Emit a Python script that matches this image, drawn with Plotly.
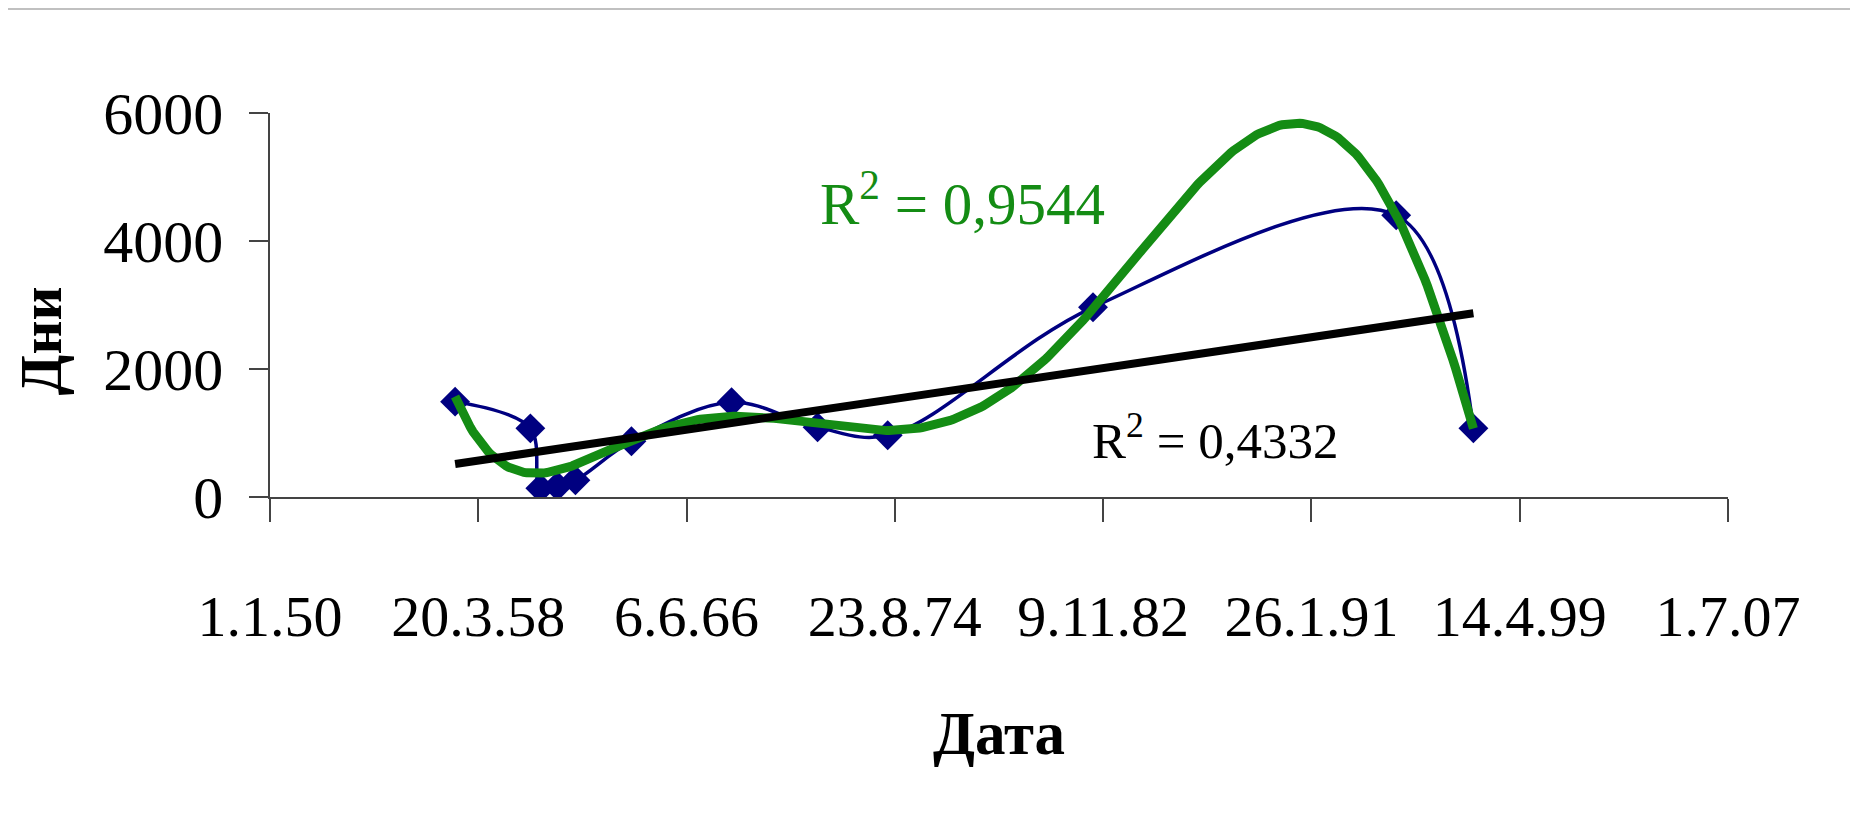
import numpy as np
import pandas as pd
import plotly.graph_objects as go

# ---- data ----
dates = ["1957-04-20", "1960-04-08", "1960-08-30", "1961-05-03", "1962-01-17",
         "1964-04-03", "1968-03-15", "1971-08-06", "1974-05-12", "1982-06-16",
         "1994-05-31", "1997-06-16"]
days_vals = [1490, 1073, 136, 167, 261, 870, 1480, 1089, 964, 2964, 4402, 1073]

tick_dates = ["1950-01-01", "1958-03-20", "1966-06-06", "1974-08-23",
              "1982-11-09", "1991-01-26", "1999-04-14", "2007-07-01"]
tick_labels = ["1.1.50", "20.3.58", "6.6.66", "23.8.74",
               "9.11.82", "26.1.91", "14.4.99", "1.7.07"]
y_ticks = [0, 2000, 4000, 6000]

r2_poly_text = "R<sup>2</sup> = 0,9544"
r2_lin_text = "R<sup>2</sup> = 0,4332"

# ---- trendlines (fit computed from the data, as the spreadsheet did) ----
dt = pd.to_datetime(dates)
xnum = (dt - pd.Timestamp("1970-01-01")).days.values.astype(float)
yv = np.array(days_vals, dtype=float)

poly6 = np.polynomial.Polynomial.fit(xnum, yv, 6)
lin = np.polynomial.Polynomial.fit(xnum, yv, 1)
xs = np.linspace(xnum.min(), xnum.max(), 400)
xs_dates = pd.Timestamp("1970-01-01") + pd.to_timedelta(xs, unit="D")
xl = np.array([xnum.min(), xnum.max()])
xl_dates = pd.Timestamp("1970-01-01") + pd.to_timedelta(xl, unit="D")

FONT = "Liberation Serif"

fig = go.Figure()
fig.add_trace(go.Scatter(
    x=dt, y=days_vals, mode="lines+markers",
    line=dict(color="#000080", width=3.5, shape="spline", smoothing=1.0),
    marker=dict(symbol="diamond", size=23, color="#000080"),
    showlegend=False))
fig.add_trace(go.Scatter(
    x=xs_dates, y=poly6(xs), mode="lines",
    line=dict(color="#148c14", width=9), showlegend=False))
fig.add_trace(go.Scatter(
    x=xl_dates, y=lin(xl), mode="lines",
    line=dict(color="#000000", width=8), showlegend=False))

fig.update_layout(
    width=1842, height=823,
    margin=dict(l=262, r=122, t=105, b=334),
    paper_bgcolor="white", plot_bgcolor="white",
    font=dict(family=FONT, color="black"),
    xaxis=dict(
        type="date",
        range=[tick_dates[0], tick_dates[-1]],
        tickmode="array", tickvals=tick_dates, ticktext=tick_labels,
        ticks="outside", ticklen=23, tickcolor="#444", tickwidth=1.5,
        showline=True, linecolor="#444", linewidth=1.5,
        showgrid=False, zeroline=False,
        tickfont=dict(family=FONT, size=58, color="black"),
        ticklabelstandoff=45,
    ),
    yaxis=dict(
        range=[0, 6000],
        tickmode="array", tickvals=y_ticks,
        ticks="outside", ticklen=19, tickcolor="#444", tickwidth=1.5,
        showline=True, linecolor="#444", linewidth=1.5,
        showgrid=False, zeroline=False,
        tickfont=dict(family=FONT, size=60, color="black"),
        ticklabelstandoff=14,
    ),
    shapes=[dict(type="line", xref="paper", yref="paper",
                 x0=-0.19, x1=1.1, y0=1.271, y1=1.271,
                 line=dict(color="#c0c0c0", width=2))],
    annotations=[
        dict(text="<b>Дата</b>", xref="paper", yref="paper",
             x=0.5, y=-0.615, xanchor="center", yanchor="middle",
             showarrow=False, font=dict(family=FONT, size=61, color="black")),
        dict(text="<b>Дни</b>", xref="paper", yref="paper",
             x=-0.1565, y=0.408, xanchor="center", yanchor="middle",
             textangle=-90, showarrow=False,
             font=dict(family=FONT, size=59, color="black")),
        dict(text=r2_poly_text, xref="paper", yref="paper",
             x=0.3759, y=0.775, xanchor="left", yanchor="middle",
             showarrow=False, font=dict(family=FONT, size=59, color="#148c14")),
        dict(text=r2_lin_text, xref="paper", yref="paper",
             x=0.5624, y=0.156, xanchor="left", yanchor="middle",
             showarrow=False, font=dict(family=FONT, size=51, color="black")),
    ],
)

fig.write_html("out.html")
